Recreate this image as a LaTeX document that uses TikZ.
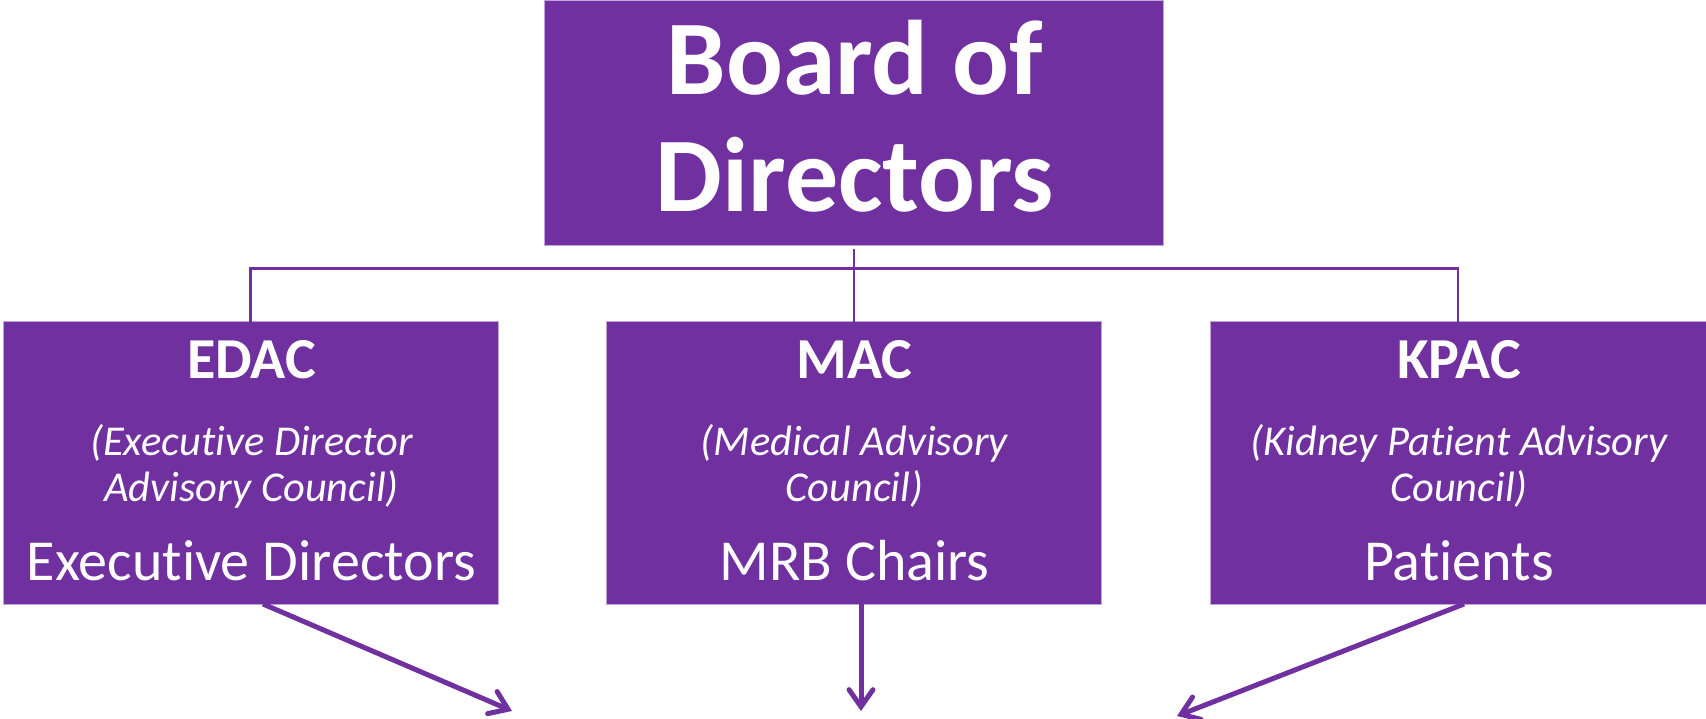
\documentclass[tikz,border=0pt]{standalone}
\usepackage{fontspec}
\setmainfont{Carlito}[Ligatures=NoCommon]
\usetikzlibrary{arrows.meta}
\definecolor{vio}{RGB}{112,48,160}
\definecolor{vioedge}{RGB}{190,165,220}
\tikzset{
  box/.style={rectangle, fill=vio, draw=vioedge, line width=1pt, inner sep=0pt, outer sep=0pt},
  txt/.style={text=white, inner sep=0pt, anchor=base},
  link/.style={draw=vio, line width=2.6pt},
  flow/.style={draw=vio, line width=5pt, -{Straight Barb[length=17pt,width=24pt,line cap=round]}},
}
\newcommand{\bigbold}{\fontsize{106}{117}\bfseries\selectfont}
\newcommand{\headbold}{\fontsize{58}{66}\bfseries\selectfont}
\newcommand{\subital}{\fontsize{42.5}{46}\itshape\selectfont}
\newcommand{\plainbig}{\fontsize{58}{66}\selectfont}
\begin{document}
\begin{tikzpicture}[x=1pt,y=-1pt]
\useasboundingbox (0,0) rectangle (1706,719);
% boxes
\node[box, minimum width=619pt, minimum height=245pt] (board) at (853.5,123.5) {};
\node[box, minimum width=495pt, minimum height=282pt] (edac) at (250.5,463) {};
\node[box, minimum width=495pt, minimum height=282pt] (mac) at (853.5,463) {};
\node[box, minimum width=496pt, minimum height=282pt] (kpac) at (1458,463) {};
% board text
\node[txt] (b1) at (855,95) {\bigbold Board of};
\node[txt] (b2) at (855,212) {\bigbold Directors};
% EDAC
\node[txt] (e1) at (251.5,378) {\headbold EDAC};
\node[txt] (e2) at (251.5,455) {\subital (Executive Director};
\node[txt] (e3) at (251.5,501) {\subital Advisory Council)};
\node[txt] (e4) at (251.5,580) {\plainbig Executive Directors};
% MAC
\node[txt] (m1) at (854.5,378) {\headbold MAC};
\node[txt] (m2) at (854.5,455) {\subital (Medical Advisory};
\node[txt] (m3) at (854.5,501) {\subital Council)};
\node[txt] (m4) at (854.5,580) {\plainbig MRB Chairs};
% KPAC
\node[txt] (k1) at (1459,378) {\headbold KPAC};
\node[txt] (k2) at (1459,455) {\subital (Kidney Patient Advisory};
\node[txt] (k3) at (1459,501) {\subital Council)};
\node[txt] (k4) at (1459,580) {\plainbig Patients};
% connectors
\coordinate (bus) at (854,268.3);
\draw[link] ([yshift=-3pt]board.south -| bus) -- (bus);
\draw[link] (edac.north) |- (bus) -| (kpac.north);
\draw[link] (bus) -- (mac.north -| bus);
% arrows
\coordinate (ea) at (512,711);
\coordinate (ma) at (861,711);
\coordinate (ka) at (1177,716);
\draw[flow] ([xshift=12.5pt]edac.south) -- (ea);
\draw[flow] ([xshift=7.5pt]mac.south) -- (ma);
\draw[flow] ([xshift=6pt]kpac.south) -- (ka);
\end{tikzpicture}
\end{document}
